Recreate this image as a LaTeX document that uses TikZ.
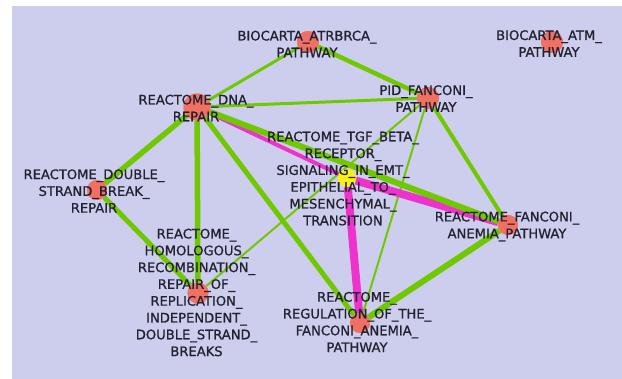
\documentclass[tikz,border=0pt]{standalone}
\usepackage{fontspec}
\setmainfont{DejaVu Sans}
\newfontfamily\labfont[FakeBold=0.9]{DejaVu Sans}
\definecolor{bgl}{RGB}{205,205,238}
\definecolor{eg}{RGB}{112,200,0}
\definecolor{em}{RGB}{238,50,204}
\definecolor{nr}{RGB}{240,112,100}
\definecolor{ny}{RGB}{250,240,20}
\definecolor{tx}{RGB}{34,34,48}
\begin{document}
\begin{tikzpicture}[x=1pt,y=-1pt,
  gnode/.style={circle,fill=nr,draw=none,minimum size=22pt,inner sep=0pt},
  ynode/.style={circle,fill=ny,draw=none,minimum size=18pt,inner sep=0pt},
  lab/.style={align=center,text=tx,font=\labfont\fontsize{13.1}{16.8}\selectfont,inner sep=0pt},
  ge/.style={draw=eg},
  me/.style={draw=em}]
\fill[white] (0,0) rectangle (622,379);
\fill[bgl] (12,6) rectangle (622,379);
\useasboundingbox (0,0) rectangle (622,379);
% nodes
\node[gnode] (atr) at (308,42) {};
\node[gnode] (atm) at (552,42) {};
\node[gnode] (pid) at (428,98) {};
\node[gnode,minimum size=27pt] (dna) at (197,107) {};
\node[gnode,minimum size=20pt] (dsb) at (97,190) {};
\node[ynode] (tgf) at (347,178) {};
\node[gnode,minimum size=20pt] (fa) at (508,225) {};
\node[gnode,minimum size=20pt] (reg) at (360,323) {};
\node[gnode,minimum size=21pt] (hom) at (198,293) {};
% edges
\path[ge,line width=3pt] (dna) -- (atr);
\path[ge,line width=4.5pt] (atr) -- (pid);
\path[ge,line width=3pt] (dna) -- (pid);
\path[ge,line width=5.5pt] (dna) -- (dsb);
\path[ge,line width=5.5pt] (dna) -- (hom);
\path[ge,line width=5pt] (dna) -- (reg);
\path[ge,line width=2pt] (pid) -- (hom);
\path[ge,line width=2pt] (pid) -- (reg);
\path[ge,line width=4pt] (pid) -- (fa);
\path[ge,line width=5pt] (dsb) -- (hom);
\path[ge,line width=6pt] (reg) -- (fa);
\path[me,line width=4pt] (dna) -- (tgf);
\path[me,line width=8pt] (tgf) -- (fa);
\path[me,line width=8pt] (tgf) -- (reg);
\path[ge,line width=6pt] (dna) -- (fa);
% redraw circles on top of edges
\foreach \n/\s in {atr/22,atm/22,pid/22,dna/27,dsb/20,fa/20,reg/20,hom/21}{
  \fill[nr] (\n.center) circle[radius=\s/2];
}
\fill[ny] (tgf.center) circle[radius=9];
% labels
\node[lab] (atrL) at (307,44) {BIOCARTA\_ATRBRCA\_\\PATHWAY};
\node[lab] (atmL) at (549,43.5) {BIOCARTA\_ATM\_\\PATHWAY};
\node[lab] (pidL) at (426,98.5) {PID\_FANCONI\_\\PATHWAY};
\node[lab] (dnaL) at (196,108) {REACTOME\_DNA\_\\REPAIR};
\node[lab] (dsbL) at (94,191) {REACTOME\_DOUBLE\_\\STRAND\_BREAK\_\\REPAIR};
\node[lab] (tgfL) at (343,178.5) {REACTOME\_TGF\_BETA\_\\RECEPTOR\_\\SIGNALING\_IN\_EMT\_\\EPITHELIAL\_TO\_\\MESENCHYMAL\_\\TRANSITION};
\node[lab] (faL) at (507,226.5) {REACTOME\_FANCONI\_\\ANEMIA\_PATHWAY};
\node[lab] (regL) at (357,322) {REACTOME\_\\REGULATION\_OF\_THE\_\\FANCONI\_ANEMIA\_\\PATHWAY};
\node[lab] (homL) at (196.5,292.5) {REACTOME\_\\HOMOLOGOUS\_\\RECOMBINATION\_\\REPAIR\_OF\_\\REPLICATION\_\\INDEPENDENT\_\\DOUBLE\_STRAND\_\\BREAKS};
\end{tikzpicture}
\end{document}
